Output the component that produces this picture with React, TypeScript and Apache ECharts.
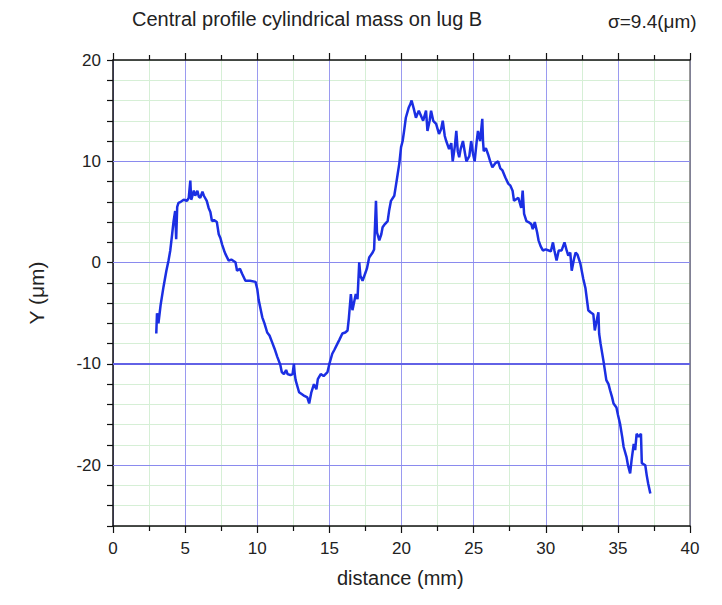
import React, { useEffect, useRef } from "react";
import * as echarts from "echarts";

const xs: number[] = [
  3.0, 3.05, 3.15, 3.3, 3.5, 3.7, 3.85, 3.97, 4.1, 4.2, 4.31, 4.38, 4.45, 4.54, 4.7, 4.9, 5.13, 5.25, 5.36, 5.42,
  5.47, 5.6, 5.7, 5.85, 5.95, 6.05, 6.2, 6.3, 6.5, 6.63, 6.75, 6.86, 7.0, 7.2, 7.33, 7.45, 7.56, 7.7, 7.79, 8.02,
  8.2, 8.49, 8.6, 8.8, 8.95, 9.18, 9.5, 9.88, 10.0, 10.1, 10.35, 10.5, 10.69, 10.85, 11.04, 11.2, 11.39, 11.6, 11.7, 11.85,
  12.0, 12.1, 12.3, 12.45, 12.54, 12.6, 12.66, 12.9, 13.2, 13.47, 13.6, 13.75, 13.93, 14.1, 14.2, 14.4, 14.6, 14.87, 15.0, 15.2,
  15.35, 15.56, 15.7, 15.9, 16.1, 16.26, 16.35, 16.49, 16.6, 16.7, 16.83, 16.95, 17.07, 17.15, 17.3, 17.5, 17.6, 17.76, 18.0, 18.1,
  18.23, 18.3, 18.46, 18.6, 18.69, 18.85, 19.04, 19.15, 19.27, 19.5, 19.6, 19.73, 19.85, 19.97, 20.08, 20.2, 20.3, 20.5, 20.6, 20.7,
  20.85, 21.0, 21.2, 21.35, 21.5, 21.7, 21.8, 21.95, 22.05, 22.2, 22.4, 22.6, 22.75, 22.86, 23.0, 23.1, 23.3, 23.45, 23.55, 23.7,
  23.8, 23.9, 24.0, 24.1, 24.26, 24.4, 24.5, 24.7, 24.83, 24.95, 25.07, 25.2, 25.3, 25.45, 25.6, 25.65, 25.7, 25.85, 26.0, 26.15,
  26.3, 26.5, 26.7, 26.85, 27.0, 27.2, 27.4, 27.55, 27.7, 27.8, 28.1, 28.3, 28.4, 28.5, 28.66, 28.8, 29.0, 29.1, 29.24, 29.4,
  29.5, 29.65, 29.8, 30.0, 30.2, 30.35, 30.5, 30.6, 30.75, 30.9, 31.1, 31.3, 31.45, 31.56, 31.7, 31.8, 31.95, 32.07, 32.2, 32.4,
  32.6, 32.75, 32.95, 33.1, 33.3, 33.4, 33.55, 33.65, 33.7, 33.8, 34.0, 34.2, 34.35, 34.46, 34.6, 34.7, 34.9, 35.0, 35.15, 35.3,
  35.4, 35.6, 35.7, 35.85, 35.95, 36.1, 36.2, 36.3, 36.45, 36.6, 36.66, 36.9, 37.0, 37.1, 37.25,
];

const ys: number[] = [
  -7.0, -5.0, -6.0, -4.2, -2.4, -0.8, 0.2, 1.2, 2.8, 4.1, 5.1, 2.3, 5.5, 5.9, 6.0, 6.2, 6.1, 6.4, 8.1, 6.2,
  6.4, 7.1, 6.6, 7.1, 6.5, 6.4, 7.0, 6.6, 6.1, 5.4, 5.0, 4.1, 4.2, 4.0, 2.8, 2.4, 1.8, 1.2, 0.86, 0.2,
  0.3, 0.03, -0.8, -0.6, -1.1, -1.8, -1.8, -1.9, -2.6, -3.7, -5.4, -6.0, -6.9, -7.2, -7.9, -8.5, -9.3, -10.1, -10.8, -11.0,
  -10.6, -11.0, -11.1, -11.0, -10.0, -11.0, -11.6, -12.8, -13.1, -13.3, -13.9, -12.8, -12.0, -12.5, -11.5, -11.0, -11.2, -10.8, -10.0, -9.0,
  -8.6, -8.0, -7.6, -7.0, -6.9, -6.7, -5.5, -3.1, -4.7, -4.0, -3.1, -3.6, 0.03, -1.3, -1.8, -1.0, -0.6, 0.5, 1.0, 1.3,
  6.1, 3.0, 2.2, 2.8, 3.5, 3.8, 4.1, 5.2, 6.1, 6.6, 7.5, 8.7, 9.8, 11.4, 12.0, 13.2, 14.3, 15.3, 15.6, 16.0,
  15.2, 14.3, 15.0, 14.5, 14.0, 15.0, 13.0, 14.0, 15.0, 14.0, 13.7, 12.7, 13.2, 14.0, 12.5, 12.0, 11.2, 11.8, 10.0, 11.5,
  13.0, 11.0, 10.4, 11.2, 12.0, 10.8, 10.0, 10.5, 12.0, 10.8, 10.0, 11.8, 13.0, 12.0, 14.2, 12.0, 11.0, 11.3, 10.7, 10.0,
  9.4, 9.8, 10.0, 9.3, 9.1, 8.4, 7.8, 7.6, 7.1, 6.1, 6.4, 5.4, 7.1, 4.8, 4.1, 4.0, 3.8, 3.3, 4.0, 3.0,
  2.2, 1.6, 1.2, 1.3, 1.2, 1.1, 2.0, 1.2, 0.2, 1.2, 1.2, 2.0, 1.2, 0.7, 1.0, -0.8, 0.3, 1.0, 0.8, -0.1,
  -1.6, -2.5, -4.7, -4.9, -5.1, -6.7, -5.6, -4.9, -7.0, -8.0, -9.7, -11.6, -12.0, -12.6, -13.3, -13.9, -14.3, -15.0, -15.9, -17.2,
  -18.2, -19.2, -20.0, -20.8, -19.5, -17.9, -18.5, -16.9, -17.2, -16.9, -19.8, -20.0, -21.0, -21.8, -22.8,
];

const majorY: number[] = [-20, -10, 0, 10];

const titleText = "Central profile cylindrical mass on lug B";
const sigmaText = "σ=9.4(μm)";
const xName = "distance (mm)";
const yName = "Y (μm)";

const FONT = "'Liberation Sans', Arial, Helvetica, sans-serif";

export default function App() {
  const ref = useRef<HTMLDivElement>(null);
  useEffect(() => {
    if (!ref.current) return;
    const chart = echarts.init(ref.current, undefined, { renderer: "svg" });
    const data = xs.map((x, i) => [x, ys[i]]);
    const minorGreen = "#d6efd6";
    const majorBlue = "#9a9af0";
    chart.setOption({
      animation: false,
      backgroundColor: "#ffffff",
      grid: { left: 113, top: 60, width: 577, height: 466, containLabel: false },
      xAxis: [
        {
          type: "value",
          position: "bottom",
          min: 0,
          max: 40,
          interval: 5,
          axisLine: { show: true, onZero: false, lineStyle: { color: "#111", width: 1.5 } },
          axisTick: { show: true, inside: false, length: 7, lineStyle: { color: "#111", width: 1.2 } },
          minorTick: { show: true, splitNumber: 2, length: 5, lineStyle: { color: "#111", width: 1.2 } },
          axisLabel: { fontFamily: FONT, fontSize: 17, color: "#222", margin: 14 },
          splitLine: { show: true, lineStyle: { color: majorBlue, width: 1 } },
          minorSplitLine: { show: true, lineStyle: { color: minorGreen, width: 1 } },
        },
        {
          type: "value",
          position: "top",
          min: 0,
          max: 40,
          interval: 5,
          axisLine: { show: true, onZero: false, lineStyle: { color: "#111", width: 1.5 } },
          axisTick: { show: true, inside: false, length: 7, lineStyle: { color: "#111", width: 1.2 } },
          minorTick: { show: true, splitNumber: 2, length: 5, lineStyle: { color: "#111", width: 1.2 } },
          axisLabel: { show: false },
          splitLine: { show: false },
        },
      ],
      yAxis: [
        {
          type: "value",
          position: "left",
          min: -26,
          max: 20,
          interval: 2,
          axisLine: { show: true, onZero: false, lineStyle: { color: "#111", width: 1.5 } },
          axisTick: { show: true, inside: false, length: 6, lineStyle: { color: "#111", width: 1.2 } },
          axisLabel: {
            fontFamily: FONT,
            fontSize: 17,
            color: "#222",
            margin: 12,
            formatter: (v: number) => (Math.round(v) % 10 === 0 ? String(Math.round(v)) : ""),
          },
          splitLine: { show: true, lineStyle: { color: minorGreen, width: 1 } },
        },
        {
          type: "value",
          position: "right",
          min: -26,
          max: 20,
          interval: 2,
          axisLine: { show: true, onZero: false, lineStyle: { color: "#777", width: 1.5 } },
          axisTick: { show: false },
          axisLabel: { show: false },
          splitLine: { show: false },
        },
      ],
      series: [
        {
          type: "line",
          data: [],
          silent: true,
          z: 1,
          markLine: {
            silent: true,
            symbol: "none",
            label: { show: false },
            animation: false,
            data: majorY.map((v) => ({
              yAxis: v,
              lineStyle: { color: v === -10 ? "#6262e6" : "#8a8aee", width: v === -10 ? 2 : 1, type: "solid" },
            })),
          },
        },
        {
          type: "line",
          data,
          z: 5,
          showSymbol: false,
          symbol: "none",
          lineStyle: { color: "#1b2fe3", width: 2.5 },
          itemStyle: { color: "#1b2fe3" },
        },
      ],
      graphic: [
        {
          type: "text",
          left: 132,
          top: 9,
          style: { text: titleText, fontFamily: FONT, fontSize: 20, fill: "#222" },
        },
        {
          type: "text",
          left: 608,
          top: 12,
          style: { text: sigmaText, fontFamily: FONT, fontSize: 19, fill: "#222" },
        },
        {
          type: "text",
          left: 337,
          top: 568,
          style: { text: xName, fontFamily: FONT, fontSize: 20, fill: "#222" },
        },
        {
          type: "text",
          x: 36,
          y: 293,
          rotation: Math.PI / 2,
          style: {
            text: yName,
            fontFamily: FONT,
            fontSize: 21,
            fill: "#222",
            align: "center",
            verticalAlign: "middle",
          },
        },
      ],
    });
    return () => chart.dispose();
  }, []);
  return <div ref={ref} style={{ width: 722, height: 605, position: "absolute", left: 0, top: 0 }} />;
}
